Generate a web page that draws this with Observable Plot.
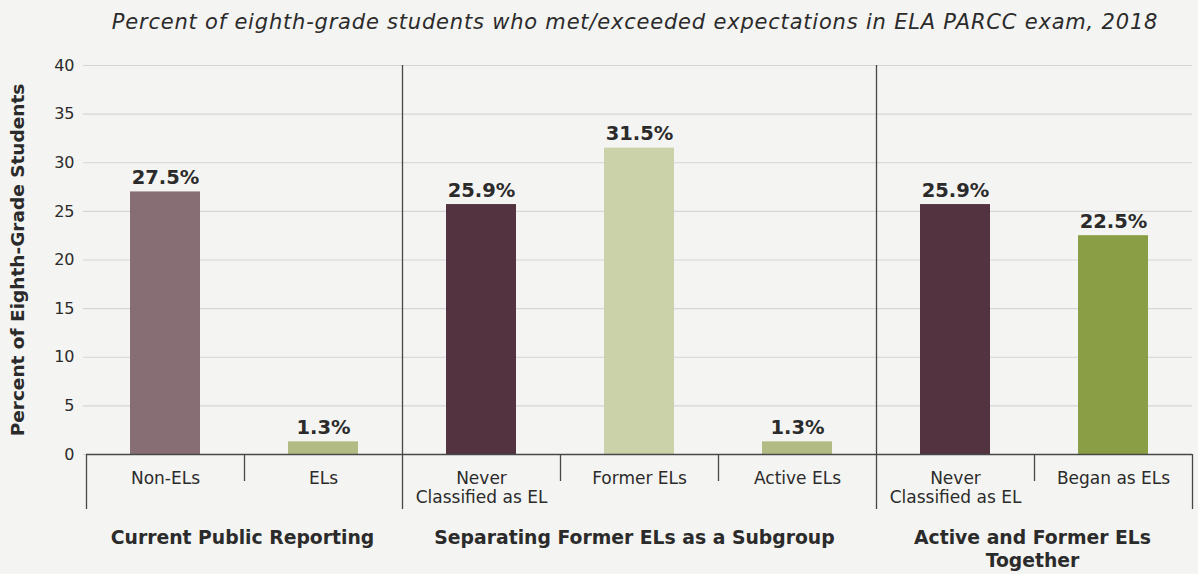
<!DOCTYPE html>
<html>
<head>
<meta charset="utf-8">
<script src="https://cdn.jsdelivr.net/npm/d3@7"></script>
<script src="https://cdn.jsdelivr.net/npm/@observablehq/plot@0.6"></script>
<style>
  html, body { margin: 0; padding: 0; background: #f4f4f2; }
  #chart svg { display: block; }
</style>
</head>
<body>
<div id="chart"></div>
<script>
// ---- data ----
const title = "Percent of eighth-grade students who met/exceeded expectations in ELA PARCC exam, 2018";
const yLabel = "Percent of Eighth-Grade Students";
const keys = ["nonEL", "el", "never1", "former", "active", "never2", "began"];
const categoryLabels = ["Non-ELs", "ELs", "Never\nClassified as EL", "Former ELs", "Active ELs", "Never\nClassified as EL", "Began as ELs"];
const values = [27.0, 1.3, 25.7, 31.5, 1.3, 25.7, 22.5];
const valueLabels = ["27.5%", "1.3%", "25.9%", "31.5%", "1.3%", "25.9%", "22.5%"];
const colors = ["#876e74", "#b3bb84", "#533340", "#cbd1a8", "#b3bb84", "#533340", "#8a9f45"];
const yTicks = [0, 5, 10, 15, 20, 25, 30, 35, 40];
const groupLabels = ["Current Public Reporting", "Separating Former ELs as a Subgroup", "Active and Former ELs\nTogether"];
const groupAnchors = ["nonEL", "former", "never2"];
const groupBetween = [true, false, true];   // label centred between two categories
const groupStarts = ["never1", "never2"];      // group dividers
const innerSeps = ["el", "former", "active", "began"];

const data = keys.map((k, i) => ({key: k, label: categoryLabels[i], value: values[i], text: valueLabels[i]}));
const groups = groupLabels.map((g, i) => ({label: g, anchor: groupAnchors[i], between: groupBetween[i]}));

const FONT = "'DejaVu Sans', sans-serif";
const INK = "#2b2b2b";
const LINE = "#474747";
const half = 79;

const chart = Plot.plot({
  width: 1198,
  height: 574,
  marginTop: 65,
  marginBottom: 120,
  marginLeft: 83,
  marginRight: 6,
  style: {background: "#f4f4f2", fontFamily: FONT, color: INK, overflow: "visible"},
  x: {domain: keys, range: [86, 1192], padding: 0, axis: null},
  y: {domain: [0, 40], axis: null},
  color: {domain: keys, range: colors},
  marks: [
    Plot.gridY(yTicks, {stroke: "#d5d5d8", strokeOpacity: 1, strokeWidth: 1.2}),
    Plot.axisY(yTicks, {tickSize: 0, tickPadding: 9, fontSize: 16, label: null, fill: INK}),
    Plot.barY(data, {x: "key", y: "value", fill: "key", insetLeft: 44, insetRight: 44}),
    Plot.ruleY([0], {stroke: LINE, strokeWidth: 1.5, insetLeft: 3}),
    Plot.ruleX(groupStarts, {x: d => d, dx: -half, stroke: LINE, strokeWidth: 1.3, insetBottom: -55}),
    Plot.ruleX([keys[0]], {x: d => d, dx: -half, y1: 0, y2: 0, stroke: LINE, strokeWidth: 1.3, insetBottom: -55}),
    Plot.ruleX([keys[keys.length - 1]], {x: d => d, dx: half, y1: 0, y2: 0, stroke: LINE, strokeWidth: 1.3, insetBottom: -55}),
    Plot.ruleX(innerSeps, {x: d => d, dx: -half, y1: 0, y2: 0, stroke: LINE, strokeWidth: 1.3, insetBottom: -27}),
    Plot.text(data, {x: "key", y: "value", text: "text", dy: -8, lineAnchor: "bottom", fontSize: 19.5, fontWeight: "bold", fill: INK}),
    Plot.text(data, {x: "key", text: "label", frameAnchor: "bottom", lineAnchor: "top", dy: 15, fontSize: 17, lineHeight: 1.16, fill: INK}),
    Plot.text(groups.filter(g => g.between), {x: "anchor", text: "label", frameAnchor: "bottom", lineAnchor: "top", dx: half - 2, dy: 72.5, fontSize: 18.8, fontWeight: "bold", lineHeight: 1.25, fill: INK}),
    Plot.text(groups.filter(g => !g.between), {x: "anchor", text: "label", frameAnchor: "bottom", lineAnchor: "top", dx: -5, dy: 72.5, fontSize: 18.8, fontWeight: "bold", lineHeight: 1.25, fill: INK}),
    Plot.text([yLabel], {text: d => d, frameAnchor: "left", dx: -65, rotate: -90, textAnchor: "middle", lineAnchor: "middle", fontSize: 18.5, fontWeight: "bold", fill: INK}),
    Plot.text([title], {text: d => d, frameAnchor: "top", dx: -3, dy: -43, lineAnchor: "middle", fontSize: 21, fontStyle: "italic", fill: INK})
  ]
});
// widen the title's tracking to match the reference typeface
d3.select(chart).selectAll("text").filter(function () { return this.textContent === title; }).style("letter-spacing", "0.8px");
document.getElementById("chart").append(chart);
</script>
</body>
</html>
